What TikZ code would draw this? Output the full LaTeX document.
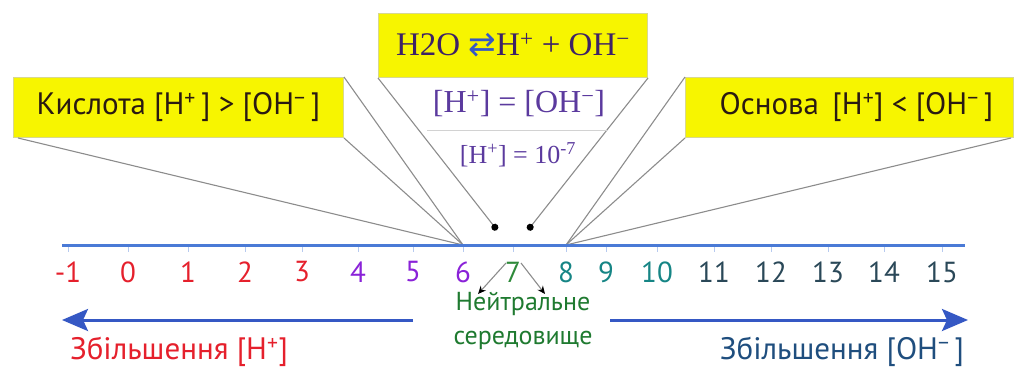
\documentclass[tikz,border=0pt]{standalone}
\usepackage{fontspec}
\setmainfont{PT Sans}
\newfontfamily\eqface{Liberation Serif}
\newfontfamily\symface{DejaVu Sans}
\usetikzlibrary{arrows.meta}

\definecolor{boxyellow}{HTML}{F7F500}
\definecolor{boxedge}{HTML}{D8D890}
\definecolor{calltext}{HTML}{2A1A12}
\definecolor{guidegray}{HTML}{8C8C8C}
\definecolor{axisblue}{HTML}{4A7AD6}
\definecolor{arrowblue}{HTML}{3558C4}
\definecolor{eqpurple}{HTML}{3E2266}
\definecolor{eqviolet}{HTML}{5B3A9E}
\definecolor{numred}{HTML}{E5202C}
\definecolor{numviolet}{HTML}{8A22D8}
\definecolor{numgreen}{HTML}{2E8A3A}
\definecolor{numteal}{HTML}{168585}
\definecolor{numslate}{HTML}{2A4858}
\definecolor{neutgreen}{HTML}{1F7A30}
\definecolor{basetext}{HTML}{1F4E7E}

\begin{document}
\begin{tikzpicture}[x=1pt,y=-1pt,
  callout/.style={draw=boxedge, fill=boxyellow, line width=1pt, anchor=north west,
    inner sep=0pt, text=calltext, font=\fontsize{31}{34}\selectfont},
  guide/.style={draw=guidegray, line width=1.1pt},
  num/.style={inner sep=0pt, font=\fontsize{29}{30}\selectfont},
  pointer/.style={draw=guidegray, line width=1.1pt, -{Stealth[length=8pt,width=7pt,black]}},
  bigarrow/.style={draw=arrowblue, line width=3pt, -{Stealth[length=26pt,width=22pt,inset=5pt]}},
  lowtext/.style={inner sep=0pt, font=\fontsize{26}{34}\selectfont}
]
\useasboundingbox (0,0) rectangle (1014,367);

% Boxes
\node[callout, minimum width=330pt, minimum height=60pt] (acid) at (13,77)
  {Кислота [H\textsuperscript{+}\,] > [OH\textsuperscript{−}\,]};
\node[callout, minimum width=269pt, minimum height=64pt, text=eqpurple,
  font=\eqface\fontsize{33}{36}\selectfont] (water) at (378,13)
  {H2O {\symface\color{arrowblue}⇄}H\textsuperscript{+} + OH\textsuperscript{−}};
\node[callout, minimum width=328pt, minimum height=60pt] (base) at (685,77)
  {\hspace{14pt}Основа\, [H\textsuperscript{+}] < [OH\textsuperscript{−}\,]};

% Points where the lines meet
\coordinate (p6) at (463,245);
\coordinate (p8) at (566,245);
\coordinate (d6) at (497,230);
\coordinate (d8) at (528,230);

% Lines from the boxes
\draw[guide] (acid.north east) -- (p6);
\draw[guide] (acid.south east) -- (p6);
\draw[guide] ([xshift=5pt]acid.south west) -- (p6);
\draw[guide, -{Circle[length=7pt,black]}] (water.south west) -- (d6);
\draw[guide, -{Circle[length=7pt,black]}] (water.south east) -- (d8);
\draw[guide] (base.north west) -- (p8);
\draw[guide] (base.south west) -- (p8);
\draw[guide] ([xshift=-3pt]base.south east) -- (p8);

% Neutral condition
\node[inner sep=0pt, text=eqviolet, font=\eqface\fontsize{32}{34}\selectfont] (eq) at (519,104)
  {[H\textsuperscript{+}] = [OH\textsuperscript{−}]};
\draw[gray!35, line width=1pt] (427,130) -- (607,130);
\node[inner sep=0pt, text=eqviolet, font=\eqface\fontsize{26}{28}\selectfont] (pk) at (518,155)
  {[H\textsuperscript{+}] = 10\textsuperscript{-7}};

% Axis
\draw[axisblue, line width=3pt] (62,245) -- (965,245);
\foreach \v/\x/\c in {-1/68/numred, 0/128/numred, 1/188/numred, 2/245/numred,
    3/302/numred, 4/358/numviolet, 5/413/numviolet, 6/463/numviolet,
    7/513/numgreen, 8/566/numteal, 9/606/numteal, 10/657/numteal,
    11/714/numslate, 12/771/numslate, 13/828/numslate, 14/884/numslate,
    15/942/numslate} {
  \draw[axisblue!40, line width=1pt] (\x,247) -- (\x,252);
  \node[num, text=\c] (n\v) at (\x,272) {\v};
}

% Neutral medium
\node[lowtext, text=neutgreen, align=center] (neut) at (523,321)
  {Нейтральне\\середовище};
\coordinate (a6) at (506,263);
\coordinate (b6) at (478,294);
\coordinate (a8) at (521,263);
\coordinate (b8) at (545,294);
\draw[pointer] (a6) -- (b6);
\draw[pointer] (a8) -- (b8);

% Direction arrows
\coordinate (hl) at (413,320);
\coordinate (hr) at (62,320);
\coordinate (ol) at (610,320);
\coordinate (or) at (968,320);
\draw[bigarrow] (hl) -- (hr);
\draw[bigarrow] (ol) -- (or);
\node[lowtext, text=numred, font=\fontsize{31}{34}\selectfont] (incH) at (179,352)
  {Збільшення [H\textsuperscript{+}]};
\node[lowtext, text=basetext, font=\fontsize{31}{34}\selectfont] (incOH) at (842,352)
  {Збільшення [OH\textsuperscript{−}\,]};

\end{tikzpicture}
\end{document}
